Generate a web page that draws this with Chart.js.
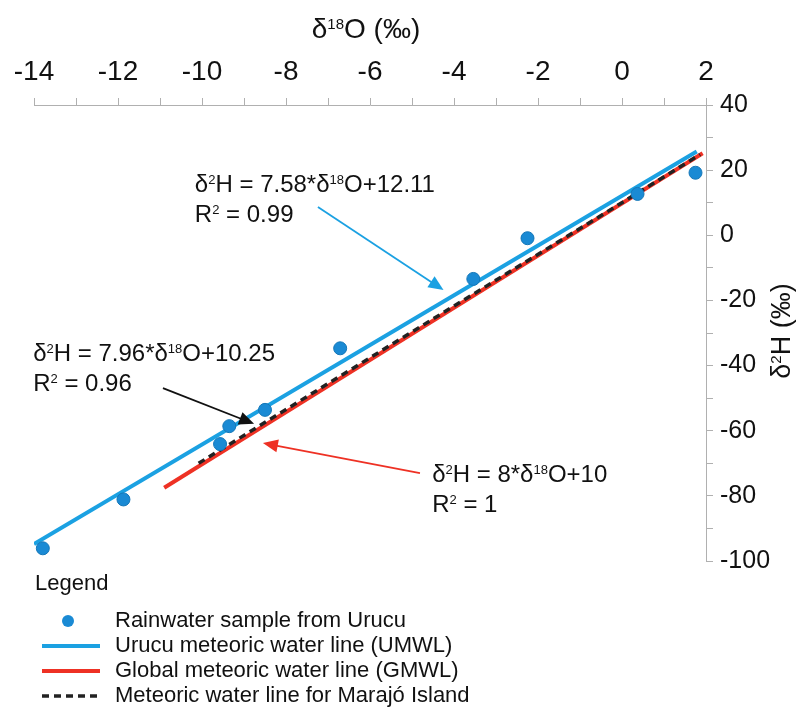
<!DOCTYPE html>
<html>
<head>
<meta charset="utf-8">
<script src="https://cdn.jsdelivr.net/npm/chart.js@4/dist/chart.umd.min.js"></script>
<style>
  body { margin: 0; background: #fff; }
  #wrap { width: 798px; height: 712px; }
</style>
</head>
<body>
<div id="wrap"><canvas id="isoChart" width="798" height="712"></canvas></div>
<script>
// rainwater samples (δ18O, δ2H)
const oxygen18 = [-13.79, -11.87, -9.57, -9.35, -8.50, -6.71, -3.54, -2.25, 0.37, 1.75];
const deuterium = [-96.1, -81.1, -64.1, -58.6, -53.6, -34.7, -13.4, -0.9, 12.7, 19.2];

// water line end points
const umwlX = [-14.0, 1.78];
const umwlY = [-94.8, 25.7];
const gmwlX = [-10.9, 1.92];
const gmwlY = [-77.5, 25.2];
const marajoX = [-10.08, 1.86];
const marajoY = [-70.0, 24.8];

// labelled ticks
const xTickLabels = [-14, -12, -10, -8, -6, -4, -2, 0, 2];
const yTickLabels = [40, 20, 0, -20, -40, -60, -80, -100];

const FONT = '"Liberation Sans", Arial, Helvetica, sans-serif';
const BLUE = '#1ba1e2';
const DOT = '#1a8ad4';
const RED = '#ee3124';
const DARK = '#222222';

function pairs(xs, ys) {
    return xs.map((x, i) => ({ x: x, y: ys[i] }));
}

// equation labels, placed in data units
const notes = [
    { lines: ['δ^{2}H = 7.58*δ^{18}O+12.11', 'R^{2} = 0.99'], x: -10.17, y: 16.0,
      arrow: [-7.24, 8.7, -4.25, -16.8], color: BLUE },
    { lines: ['δ^{2}H = 7.96*δ^{18}O+10.25', 'R^{2} = 0.96'], x: -14.02, y: -36.1,
      arrow: [-10.93, -46.9, -8.76, -57.9], color: '#111111' },
    { lines: ['δ^{2}H = 8*δ^{18}O+10', 'R^{2} = 1'], x: -4.52, y: -73.0,
      arrow: [-4.81, -73.0, -8.55, -63.8], color: RED }
];

// text with ^{..} superscripts, alphabetic baseline
function richText(ctx, str, x, y, size, measureOnly) {
    const parts = str.split(/(\^\{[^}]*\})/);
    let cx = x;
    parts.forEach(p => {
        if (!p) return;
        const sup = p.startsWith('^{');
        const t = sup ? p.slice(2, -1) : p;
        const fs = sup ? Math.round(size * 0.55) : size;
        ctx.font = fs + 'px ' + FONT;
        if (!measureOnly) ctx.fillText(t, cx, sup ? y - size * 0.33 : y);
        cx += ctx.measureText(t).width;
    });
    return cx - x;
}

function arrow(ctx, x1, y1, x2, y2, color) {
    const ang = Math.atan2(y2 - y1, x2 - x1);
    const len = 15, half = 6.5;
    ctx.strokeStyle = color;
    ctx.fillStyle = color;
    ctx.lineWidth = 1.8;
    ctx.beginPath();
    ctx.moveTo(x1, y1);
    ctx.lineTo(x2 - Math.cos(ang) * len * 0.8, y2 - Math.sin(ang) * len * 0.8);
    ctx.stroke();
    ctx.beginPath();
    ctx.moveTo(x2, y2);
    ctx.lineTo(x2 - Math.cos(ang) * len - Math.sin(ang) * half, y2 - Math.sin(ang) * len + Math.cos(ang) * half);
    ctx.lineTo(x2 - Math.cos(ang) * len + Math.sin(ang) * half, y2 - Math.sin(ang) * len - Math.cos(ang) * half);
    ctx.closePath();
    ctx.fill();
}

const decorPlugin = {
    id: 'decor',
    afterDraw(chart) {
        const ctx = chart.ctx;
        const xs = chart.scales.x, ys = chart.scales.y;
        ctx.save();
        ctx.textBaseline = 'alphabetic';
        ctx.textAlign = 'left';

        // axis titles
        ctx.fillStyle = '#111';
        const tTitle = 'δ^{18}O (‰)';
        const w1 = richText(ctx, tTitle, 0, 0, 28, true);
        richText(ctx, tTitle, 366 - w1 / 2, 38, 28);

        ctx.save();
        ctx.translate(790, 331);
        ctx.rotate(-Math.PI / 2);
        const yTitle = 'δ^{2}H (‰)';
        const w2 = richText(ctx, yTitle, 0, 0, 27, true);
        richText(ctx, yTitle, -w2 / 2, 0, 27);
        ctx.restore();

        // equations and arrows
        notes.forEach(n => {
            const a = n.arrow;
            arrow(ctx, xs.getPixelForValue(a[0]), ys.getPixelForValue(a[1]),
                  xs.getPixelForValue(a[2]), ys.getPixelForValue(a[3]), n.color);
            ctx.fillStyle = '#111';
            const px = xs.getPixelForValue(n.x);
            const py = ys.getPixelForValue(n.y);
            n.lines.forEach((l, i) => richText(ctx, l, px, py + 8.5 + i * 30, 24));
        });

        // legend
        ctx.fillStyle = '#111';
        ctx.font = '22px ' + FONT;
        ctx.fillText('Legend', 35, 590);
        const order = [0, 1, 3, 2];
        order.forEach((di, i) => {
            const ds = chart.data.datasets[di];
            const cy = 621 + i * 25;
            if (ds.showLine) {
                ctx.strokeStyle = ds.borderColor;
                ctx.lineWidth = ds.borderWidth;
                ctx.setLineDash(ds.borderDash || []);
                ctx.beginPath();
                ctx.moveTo(42, cy);
                ctx.lineTo(100, cy);
                ctx.stroke();
                ctx.setLineDash([]);
            } else {
                ctx.fillStyle = ds.backgroundColor;
                ctx.beginPath();
                ctx.arc(68, cy, 6, 0, Math.PI * 2);
                ctx.fill();
            }
            ctx.fillStyle = '#111';
            ctx.font = '22px ' + FONT;
            ctx.textBaseline = 'middle';
            ctx.fillText(ds.label, 115, cy);
            ctx.textBaseline = 'alphabetic';
        });
        ctx.restore();
    }
};

new Chart(document.getElementById('isoChart'), {
    type: 'scatter',
    data: {
        datasets: [
            {
                label: 'Rainwater sample from Urucu',
                data: pairs(oxygen18, deuterium),
                backgroundColor: DOT,
                borderColor: '#1577b8',
                borderWidth: 1,
                pointRadius: 6.5
            },
            {
                label: 'Urucu meteoric water line (UMWL)',
                data: pairs(umwlX, umwlY),
                showLine: true,
                borderColor: BLUE,
                borderWidth: 4,
                pointRadius: 0
            },
            {
                label: 'Meteoric water line for Marajó Island',
                data: pairs(marajoX, marajoY),
                showLine: true,
                borderColor: DARK,
                borderWidth: 3.5,
                borderDash: [7, 5],
                pointRadius: 0
            },
            {
                label: 'Global meteoric water line (GMWL)',
                data: pairs(gmwlX, gmwlY),
                showLine: true,
                borderColor: RED,
                borderWidth: 4,
                pointRadius: 0
            }
        ]
    },
    options: {
        responsive: false,
        animation: false,
        devicePixelRatio: 1,
        layout: { padding: { left: 34, right: 0, top: 0, bottom: 151 } },
        plugins: { legend: { display: false }, tooltip: { enabled: false } },
        scales: {
            x: {
                type: 'linear',
                position: 'top',
                min: -14,
                max: 2,
                afterFit: s => { s.height = 105; },
                border: { color: '#b0b0b0', width: 1 },
                grid: { drawOnChartArea: false, drawTicks: true, tickLength: 7, color: '#b0b0b0' },
                ticks: {
                    stepSize: 1,
                    autoSkip: false,
                    maxRotation: 0,
                    padding: 9,
                    color: '#111',
                    font: { family: FONT, size: 28 },
                    callback: v => xTickLabels.includes(v) ? String(v) : ''
                }
            },
            y: {
                type: 'linear',
                position: 'right',
                min: -100,
                max: 40,
                afterFit: s => { s.width = 92; },
                border: { color: '#b0b0b0', width: 1 },
                grid: { drawOnChartArea: false, drawTicks: true, tickLength: 7, color: '#b0b0b0' },
                ticks: {
                    stepSize: 10,
                    autoSkip: false,
                    padding: 7,
                    color: '#111',
                    font: { family: FONT, size: 25 },
                    callback: v => yTickLabels.includes(v) ? String(v) : ''
                }
            }
        }
    },
    plugins: [decorPlugin]
});
</script>
</body>
</html>
